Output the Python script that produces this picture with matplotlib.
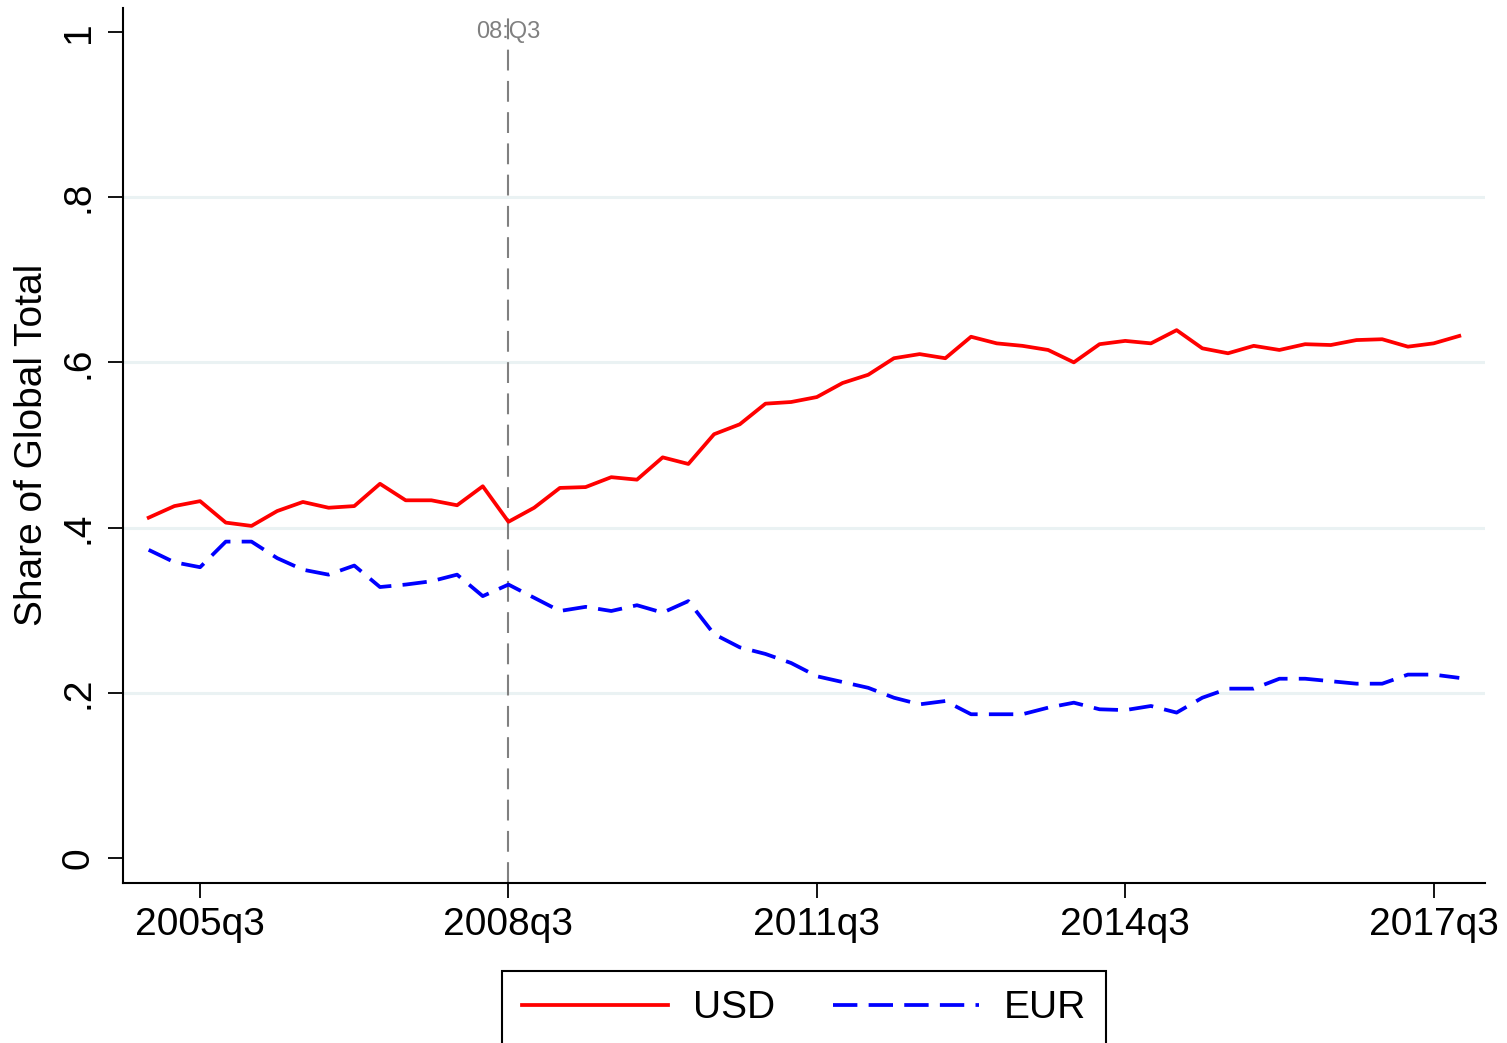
"""Share of global total by currency, USD vs EUR, quarterly 2005q1-2017q4"""

import numpy as np
import matplotlib
matplotlib.use("Agg")
import matplotlib.pyplot as plt

plt.rcParams["font.family"] = ["Liberation Sans", "DejaVu Sans"]

# quarters 2005q1 .. 2017q4
quarters = [f"{y}q{q}" for y in range(2005, 2018) for q in range(1, 5)]

usd = [0.412, 0.426, 0.432, 0.406, 0.402, 0.420, 0.431, 0.424, 0.426, 0.453,
       0.433, 0.433, 0.427, 0.450, 0.407, 0.424, 0.448, 0.449, 0.461, 0.458,
       0.485, 0.477, 0.513, 0.525, 0.550, 0.552, 0.558, 0.575, 0.585, 0.605,
       0.610, 0.605, 0.631, 0.623, 0.620, 0.615, 0.600, 0.622, 0.626, 0.623,
       0.639, 0.617, 0.611, 0.620, 0.615, 0.622, 0.621, 0.627, 0.628, 0.619,
       0.623, 0.632]

eur = [0.373, 0.358, 0.352, 0.383, 0.383, 0.363, 0.349, 0.343, 0.354, 0.328,
       0.331, 0.335, 0.343, 0.317, 0.331, 0.315, 0.299, 0.304, 0.299, 0.306,
       0.297, 0.311, 0.271, 0.255, 0.247, 0.236, 0.220, 0.213, 0.206, 0.194,
       0.186, 0.190, 0.174, 0.174, 0.174, 0.182, 0.188, 0.180, 0.179, 0.184,
       0.176, 0.194, 0.205, 0.205, 0.217, 0.217, 0.214, 0.211, 0.211, 0.222,
       0.222, 0.218]

xtick_labels = ["2005q3", "2008q3", "2011q3", "2014q3", "2017q3"]
ytick_vals = [0, 0.2, 0.4, 0.6, 0.8, 1.0]
ytick_labels = ["0", ".2", ".4", ".6", ".8", "1"]
event_label = "08:Q3"
event_quarter = "2008q3"

x = np.arange(len(quarters))

W, H = 1507, 1043
fig = plt.figure(figsize=(W / 100, H / 100), dpi=100)
ax = fig.add_axes([123 / W, 1 - 883 / H, (1485 - 123) / W, (883 - 8) / H])

# light horizontal grid
for v in [0.2, 0.4, 0.6, 0.8]:
    ax.axhline(v, color="#eaf2f3", lw=2.2, zorder=0)

ax.plot(x, usd, color="#ff0000", lw=2.7, label="USD", zorder=3)
ax.plot(x, eur, color="#0000ff", lw=2.7, dashes=(6.5, 3), label="EUR", zorder=3)

ev = quarters.index(event_quarter)
ax.axvline(ev, color="#808080", lw=1.5, dashes=(10, 5), zorder=2)
ax.text(ev, 1.0, event_label, color="#808080", fontsize=17,
        ha="center", va="center", zorder=4)

ax.set_xlim(-1, 52)
ax.set_ylim(-0.0303, 1.029)

ax.set_xticks([quarters.index(q) for q in xtick_labels])
ax.set_xticklabels(xtick_labels, fontsize=28)
ax.set_yticks(ytick_vals)
ax.set_yticklabels(ytick_labels, fontsize=28, rotation=90, va="center")

ax.tick_params(axis="both", direction="out", length=11, width=1.3, color="black")
ax.tick_params(axis="x", pad=6)
ax.tick_params(axis="y", pad=8)

for side in ["top", "right"]:
    ax.spines[side].set_visible(False)
for side in ["left", "bottom"]:
    ax.spines[side].set_linewidth(1.5)

ax.set_ylabel("Share of Global Total", fontsize=28, va="center")
ax.yaxis.set_label_coords((32 - 123) / (1485 - 123), (883 - 445) / (883 - 8))

# legend box runs off the bottom edge as in the original
leg = fig.legend(loc="upper center", bbox_to_anchor=(804 / W, 1 - 971 / H),
                 borderaxespad=0, ncol=2, fontsize=28, handlelength=3.75,
                 columnspacing=1.5, handletextpad=0.64, borderpad=0.5,
                 fancybox=False, edgecolor="black", framealpha=1)
leg.get_frame().set_linewidth(1.5)

fig.savefig("out.png", dpi=100)
